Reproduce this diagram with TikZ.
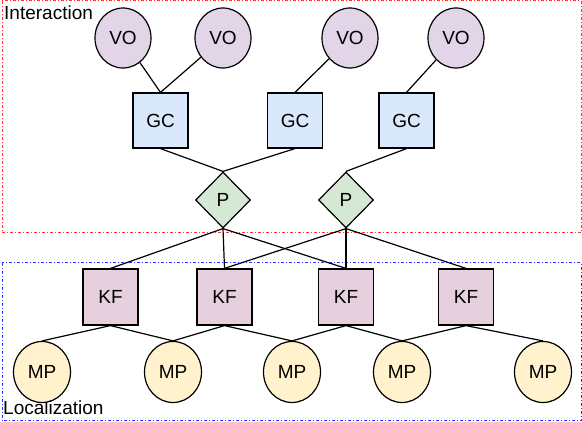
\documentclass[tikz,border=0pt]{standalone}
\usepackage{fontspec}
\setmainfont{Liberation Sans}
\usetikzlibrary{shapes.geometric}
\definecolor{voFill}{HTML}{E1D5E7}
\definecolor{gcFill}{HTML}{DAE8FC}
\definecolor{pFill}{HTML}{D5E8D4}
\definecolor{kfFill}{HTML}{E6D0DE}
\definecolor{mpFill}{HTML}{FFF2CC}
\definecolor{redLine}{HTML}{FF3333}
\definecolor{blueLine}{HTML}{3333FF}
\tikzset{
  base/.style={draw=black, line width=1.2pt, inner sep=0pt, font=\fontsize{19}{22}\selectfont},
  vonode/.style={base, ellipse, fill=voFill, minimum width=56pt, minimum height=60pt},
  mpnode/.style={base, ellipse, fill=mpFill, minimum width=57pt, minimum height=61pt},
  gcnode/.style={base, rectangle, fill=gcFill, minimum width=55pt, minimum height=55pt},
  kfnode/.style={base, rectangle, fill=kfFill, minimum width=55pt, minimum height=56pt},
  pnode/.style={base, diamond, fill=pFill, minimum width=55pt, minimum height=56pt},
  edge/.style={draw=black, line width=1.2pt},
  region/.style={line width=1pt, dash pattern=on 3pt off 2pt on 1pt off 2pt},
  regionlabel/.style={inner sep=0pt, font=\fontsize{19}{22}\selectfont}
}
\begin{document}
\begin{tikzpicture}[x=1pt,y=-1pt]
\useasboundingbox (0,0) rectangle (582,422);
% regions
\draw[region, draw=redLine] (2,1) rectangle (581,233);
\draw[region, draw=blueLine] (2,263) rectangle (581,421);
\node[regionlabel, anchor=base west] (lint) at (4,20) {Interaction};
\node[regionlabel, anchor=base west] (lloc) at (3,415) {Localization};
% nodes
\node[vonode] (vo1) at (123,38) {VO};
\node[vonode] (vo2) at (223,38) {VO};
\node[vonode] (vo3) at (350,38) {VO};
\node[vonode] (vo4) at (456,38) {VO};
\node[gcnode] (gc1) at (160.5,120.5) {GC};
\node[gcnode] (gc2) at (295,120.5) {GC};
\node[gcnode] (gc3) at (406.5,120.5) {GC};
\node[pnode] (p1) at (223,200) {P};
\node[pnode] (p2) at (346,200) {P};
\node[kfnode] (kf1) at (110.5,297) {KF};
\node[kfnode] (kf2) at (224.5,297) {KF};
\node[kfnode] (kf3) at (346,297) {KF};
\node[kfnode] (kf4) at (466,297) {KF};
\node[mpnode] (mp1) at (42,372) {MP};
\node[mpnode] (mp2) at (173,372) {MP};
\node[mpnode] (mp3) at (292,372) {MP};
\node[mpnode] (mp4) at (402,372) {MP};
\node[mpnode] (mp5) at (543,372) {MP};
% edges
\draw[edge] (vo1) -- (gc1.north);
\draw[edge] (vo2) -- (gc1.north);
\draw[edge] (vo3) -- (gc2.north);
\draw[edge] (vo4) -- (gc3.north);
\draw[edge] (gc1.south) -- (p1.north);
\draw[edge] (gc2.south) -- (p1.north);
\draw[edge] (gc3.south) -- (p2.north);
\draw[edge] (p1.south) -- (kf1.north);
\draw[edge] (p1.south) -- (kf2.north);
\draw[edge] (p1.south) -- (kf3.north);
\draw[edge] (p2.south) -- (kf2.north);
\draw[edge] (p2.south) -- (kf3.north);
\draw[edge] (p2.south) -- (kf4.north);
\draw[edge] (kf1.south) -- (mp1.north);
\draw[edge] (kf1.south) -- (mp2.north);
\draw[edge] (kf2.south) -- (mp2.north);
\draw[edge] (kf2.south) -- (mp3.north);
\draw[edge] (kf3.south) -- (mp3.north);
\draw[edge] (kf3.south) -- (mp4.north);
\draw[edge] (kf4.south) -- (mp4.north);
\draw[edge] (kf4.south) -- (mp5.north);
\end{tikzpicture}
\end{document}
